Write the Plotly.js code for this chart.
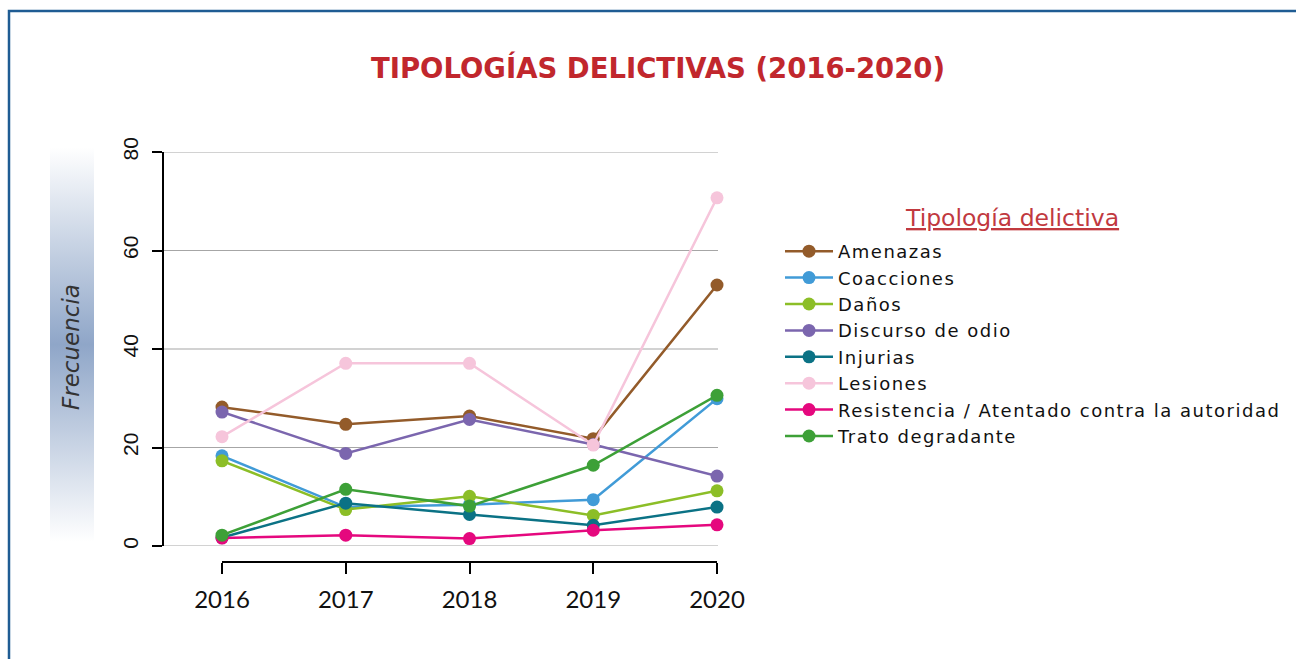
<!DOCTYPE html>
<html>
<head>
<meta charset="utf-8">
<script src="https://cdn.plot.ly/plotly-3.0.1.min.js"></script>
<style>html,body{margin:0;padding:0;background:#fff;}#chart{width:1296px;height:659px;}</style>
</head>
<body>
<div id="chart"></div>
<script>
const years = [2016, 2017, 2018, 2019, 2020];
const seriesNames = ["Amenazas", "Coacciones", "Daños", "Discurso de odio", "Injurias", "Lesiones", "Resistencia / Atentado contra la autoridad", "Trato degradante"];
const amenazas    = [28.2, 24.7, 26.4, 21.8, 53.0];
const coacciones  = [18.3, 7.9, 8.4, 9.4, 29.9];
const danos       = [17.3, 7.4, 10.1, 6.2, 11.2];
const discurso    = [27.2, 18.8, 25.7, 20.6, 14.2];
const injurias    = [1.7, 8.7, 6.4, 4.2, 7.9];
const lesiones    = [22.2, 37.1, 37.1, 20.5, 70.7];
const resistencia = [1.6, 2.2, 1.5, 3.2, 4.3];
const trato       = [2.2, 11.5, 8.1, 16.4, 30.6];
const seriesValues = [amenazas, coacciones, danos, discurso, injurias, lesiones, resistencia, trato];
const seriesColors = ["#935B2A", "#419BD7", "#8CBE27", "#7B66AE", "#0B7285", "#F6C5DB", "#E5087E", "#3DA037"];
const yTicks = [0, 20, 40, 60, 80];

const W = 1296, H = 659;
const px = v => v / W;
const py = v => 1 - v / H;

const FONT = "'DejaVu Sans', sans-serif";

const traces = seriesNames.map((name, i) => ({
  type: "scatter",
  mode: "lines+markers",
  name: "<span style='letter-spacing:1.5px'>" + name + "</span>",
  x: years,
  y: seriesValues[i],
  line: {color: seriesColors[i], width: 2.5},
  marker: {color: seriesColors[i], size: 13},
  cliponaxis: false
}));

const gradSvg = '<svg xmlns="http://www.w3.org/2000/svg" width="44" height="395" preserveAspectRatio="none">' +
  '<defs><linearGradient id="g" x1="0" y1="0" x2="0" y2="1">' +
  '<stop offset="0" stop-color="#ffffff"/>' +
  '<stop offset="0.5" stop-color="#8fa6c8"/>' +
  '<stop offset="1" stop-color="#ffffff"/>' +
  '</linearGradient></defs><rect width="44" height="395" fill="url(#g)"/></svg>';
const gradUri = "data:image/svg+xml;base64," + btoa(gradSvg);

const gridShapes = yTicks.map(v => ({
  type: "line", xref: "paper", yref: "y",
  x0: px(163), x1: px(718), y0: v, y1: v,
  line: {color: "#a6a6a6", width: 1.2}, layer: "below"
}));

const layout = {
  width: W, height: H,
  margin: {l: 0, r: 0, t: 0, b: 0},
  paper_bgcolor: "#ffffff",
  plot_bgcolor: "rgba(0,0,0,0)",
  font: {family: FONT, color: "#111"},
  title: {
    text: "<b>TIPOLOGÍAS DELICTIVAS (2016-2020)</b>",
    font: {family: FONT, size: 27.5, color: "#C1272D"},
    x: px(658), xanchor: "center",
    y: py(68), yanchor: "middle", xref: "paper", yref: "container"
  },
  xaxis: {
    domain: [px(222), px(717)],
    range: [2016, 2020],
    anchor: "free", position: py(562),
    tickvals: years, ticktext: years.map(String),
    showline: true, linecolor: "#000", linewidth: 2,
    ticks: "outside", ticklen: 11, tickwidth: 2, tickcolor: "#000",
    tickfont: {family: "Lato, sans-serif", size: 24, color: "#111"},
    ticklabelstandoff: 5,
    showgrid: false, zeroline: false, fixedrange: true
  },
  yaxis: {
    domain: [py(546), py(152)],
    range: [0, 80],
    anchor: "free", position: px(163),
    tickvals: yTicks, ticktext: yTicks.map(String),
    tickangle: -90,
    showline: true, linecolor: "#000", linewidth: 2,
    ticks: "outside", ticklen: 10, tickwidth: 2, tickcolor: "#000",
    tickfont: {family: "'Liberation Sans', Arial, sans-serif", size: 21, color: "#111"},
    ticklabelstandoff: 6,
    showgrid: false, zeroline: false, fixedrange: true
  },
  showlegend: true,
  legend: {
    x: px(780), xanchor: "left",
    y: py(233), yanchor: "top",
    bgcolor: "rgba(0,0,0,0)",
    font: {family: FONT, size: 18, color: "#111"},
    itemwidth: 48,
    tracegroupgap: 0
  },
  shapes: [
    {type: "rect", xref: "paper", yref: "paper",
     x0: px(9), x1: px(1310), y0: py(11), y1: py(680),
     line: {color: "#1F5C93", width: 2.5}, fillcolor: "rgba(0,0,0,0)", layer: "below"}
  ].concat(gridShapes),
  images: [{
    source: gradUri, xref: "paper", yref: "paper",
    x: px(50), y: py(147), sizex: px(44), sizey: 395 / H,
    xanchor: "left", yanchor: "top", sizing: "stretch", layer: "below"
  }],
  annotations: [
    {
      text: "Frecuencia", xref: "paper", yref: "paper",
      x: px(71), y: py(347), xanchor: "center", yanchor: "middle",
      textangle: -90, showarrow: false,
      font: {family: FONT, size: 23, color: "#333", style: "italic"}
    },
    {
      text: "<u>Tipología delictiva</u>", xref: "paper", yref: "paper",
      x: px(1012), y: py(218), xanchor: "center", yanchor: "middle",
      showarrow: false,
      font: {family: FONT, size: 23.5, color: "#C1393F"}
    }
  ]
};

Plotly.newPlot("chart", traces, layout, {displayModeBar: false, staticPlot: true});
</script>
</body>
</html>
